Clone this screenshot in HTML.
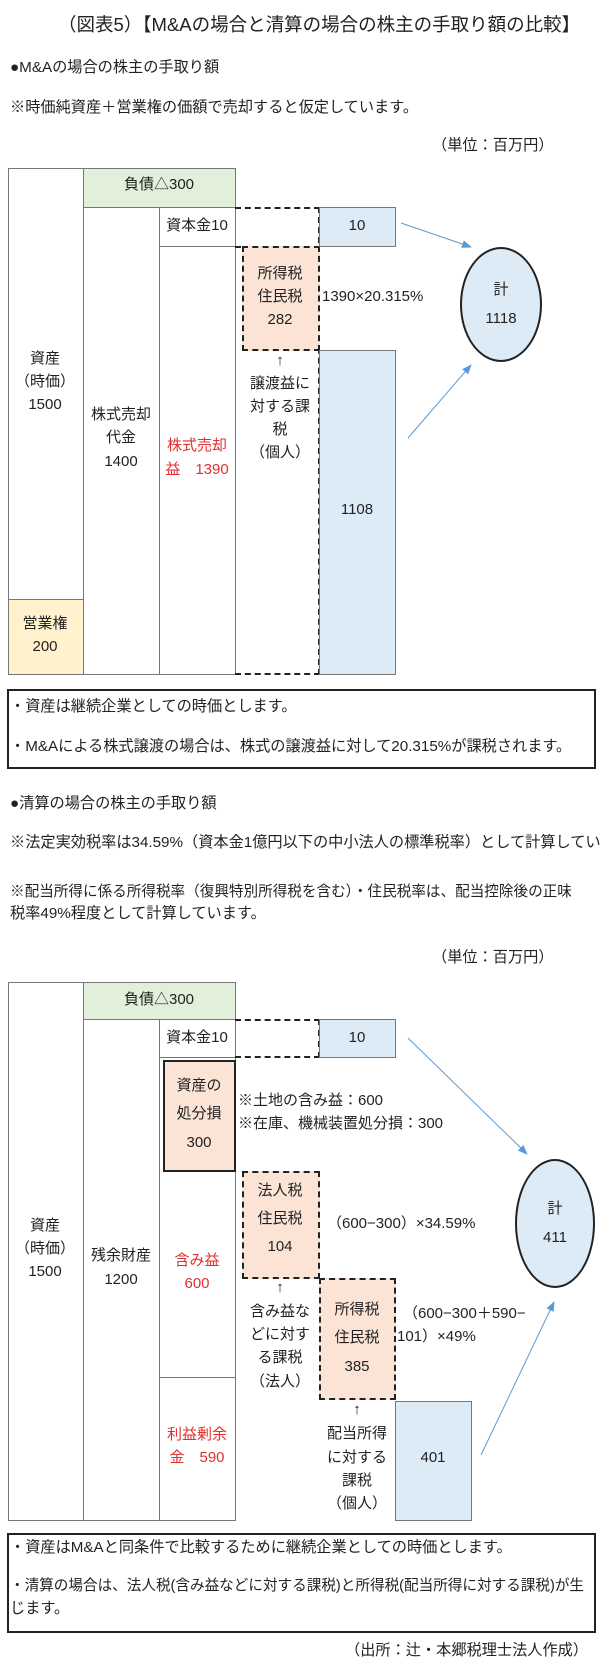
<!DOCTYPE html>
<html><head><meta charset="utf-8"><style>
*{margin:0;padding:0;box-sizing:border-box}
body{width:600px;height:1667px;background:#fff;position:relative;overflow:hidden;font-family:"Liberation Sans","Noto Sans CJK JP",sans-serif;color:#222;font-size:15px}
.a{position:absolute;white-space:nowrap;line-height:18px}
.t{font-size:15.2px}
.c{position:absolute;width:120px;text-align:center;line-height:18px;white-space:nowrap}
.b{position:absolute;border:1.5px solid #777}
.r{color:#e03030}
.d{position:absolute;border:2px dashed #222}
</style></head><body>
<div class="a" style="left:58px;top:14px;font-size:18.5px;line-height:22px">（図表5）【M&amp;Aの場合と清算の場合の株主の手取り額の比較】</div>
<div class="a t" style="left:10px;top:59px">●M&amp;Aの場合の株主の手取り額</div>
<div class="a t" style="left:10px;top:99px">※時価純資産＋営業権の価額で売却すると仮定しています。</div>
<div class="a t" style="left:432px;top:137px">（単位：百万円）</div>

<!-- diagram 1 -->
<div class="b" style="left:8px;top:168px;width:76px;height:507px"></div>
<div class="b" style="left:8px;top:599px;width:76px;height:76px;background:#fff2cc"></div>
<div class="b" style="left:83px;top:168px;width:153px;height:40px;background:#e2efda"></div>
<div class="b" style="left:83px;top:207px;width:77px;height:468px"></div>
<div class="b" style="left:159px;top:207px;width:77px;height:40px"></div>
<div class="b" style="left:159px;top:246px;width:77px;height:429px"></div>
<div class="d" style="left:235px;top:207px;width:85px;height:468px;border-left:none"></div>
<div style="position:absolute;left:235px;top:246px;width:85px;border-top:2px dashed #222"></div>
<div class="d" style="left:242px;top:246px;width:78px;height:105px;background:#fbe4d5"></div>
<div class="b" style="left:319px;top:207px;width:77px;height:40px;background:#ddebf7"></div>
<div class="b" style="left:319px;top:350px;width:77px;height:325px;background:#ddebf7"></div>
<div class="c" style="left:99px;top:176px">負債△300</div>
<div class="c" style="left:137px;top:217px">資本金10</div>
<div class="c" style="left:297px;top:217px">10</div>
<div class="c" style="left:220px;top:265px">所得税</div>
<div class="c" style="left:220px;top:288px">住民税</div>
<div class="c" style="left:220px;top:311px">282</div>
<div class="a" style="left:322px;top:288px">1390×20.315%</div>
<div class="c" style="left:220px;top:352px">↑</div>
<div class="c" style="left:220px;top:375px">譲渡益に</div>
<div class="c" style="left:220px;top:398px">対する課</div>
<div class="c" style="left:220px;top:421px">税</div>
<div class="c" style="left:220px;top:444px">（個人）</div>
<div class="c" style="left:-15px;top:350px">資産</div>
<div class="c" style="left:-15px;top:373px">（時価）</div>
<div class="c" style="left:-15px;top:396px">1500</div>
<div class="c" style="left:61px;top:406px">株式売却</div>
<div class="c" style="left:61px;top:429px">代金</div>
<div class="c" style="left:61px;top:453px">1400</div>
<div class="c r" style="left:137px;top:437px">株式売却</div>
<div class="c r" style="left:137px;top:461px">益　1390</div>
<div class="c" style="left:297px;top:501px">1108</div>
<div class="c" style="left:-15px;top:615px">営業権</div>
<div class="c" style="left:-15px;top:638px">200</div>

<div style="position:absolute;left:460px;top:247px;width:82px;height:115px;border:2px solid #222;border-radius:50%;background:#ddebf7"></div>
<div class="c" style="left:441px;top:281px">計</div>
<div class="c" style="left:441px;top:310px">1118</div>

<div style="position:absolute;left:7px;top:689px;width:589px;height:80px;border:2px solid #222"></div>
<div class="a t" style="left:10px;top:698px">・資産は継続企業としての時価とします。</div>
<div class="a t" style="left:10px;top:738px">・M&amp;Aによる株式譲渡の場合は、株式の譲渡益に対して20.315%が課税されます。</div>

<div class="a t" style="left:10px;top:795px">●清算の場合の株主の手取り額</div>
<div class="a t" style="left:10px;top:834px;width:590px;overflow:hidden">※法定実効税率は34.59%（資本金1億円以下の中小法人の標準税率）として計算しています。</div>
<div class="a" style="left:10px;top:883px;font-size:14.6px">※配当所得に係る所得税率（復興特別所得税を含む）・住民税率は、配当控除後の正味</div>
<div class="a t" style="left:10px;top:905px">税率49%程度として計算しています。</div>
<div class="a t" style="left:432px;top:949px">（単位：百万円）</div>

<!-- diagram 2 -->
<div class="b" style="left:8px;top:982px;width:76px;height:539px"></div>
<div class="b" style="left:83px;top:982px;width:153px;height:38px;background:#e2efda"></div>
<div class="b" style="left:83px;top:1019px;width:77px;height:502px"></div>
<div class="b" style="left:159px;top:1019px;width:77px;height:39px"></div>
<div class="b" style="left:159px;top:1057px;width:77px;height:321px"></div>
<div class="b" style="left:159px;top:1377px;width:77px;height:144px"></div>
<div style="position:absolute;left:163px;top:1060px;width:73px;height:112px;border:2px solid #222;background:#fbe4d5"></div>
<div class="d" style="left:235px;top:1019px;width:85px;height:39px;border-left:none"></div>
<div class="b" style="left:319px;top:1019px;width:77px;height:39px;background:#ddebf7"></div>
<div class="d" style="left:242px;top:1171px;width:78px;height:108px;background:#fbe4d5"></div>
<div class="d" style="left:319px;top:1278px;width:77px;height:122px;background:#fbe4d5"></div>
<div class="b" style="left:395px;top:1401px;width:77px;height:120px;background:#ddebf7"></div>

<div class="c" style="left:99px;top:991px">負債△300</div>
<div class="c" style="left:137px;top:1029px">資本金10</div>
<div class="c" style="left:297px;top:1029px">10</div>
<div class="c" style="left:139px;top:1077px">資産の</div>
<div class="c" style="left:139px;top:1105px">処分損</div>
<div class="c" style="left:139px;top:1134px">300</div>
<div class="a" style="left:238px;top:1092px">※土地の含み益：600</div>
<div class="a" style="left:238px;top:1115px">※在庫、機械装置処分損：300</div>
<div class="c" style="left:220px;top:1182px">法人税</div>
<div class="c" style="left:220px;top:1210px">住民税</div>
<div class="c" style="left:220px;top:1238px">104</div>
<div class="a" style="left:327px;top:1215px">（600−300）×34.59%</div>
<div class="c" style="left:-15px;top:1217px">資産</div>
<div class="c" style="left:-15px;top:1240px">（時価）</div>
<div class="c" style="left:-15px;top:1263px">1500</div>
<div class="c" style="left:61px;top:1247px">残余財産</div>
<div class="c" style="left:61px;top:1271px">1200</div>
<div class="c r" style="left:137px;top:1252px">含み益</div>
<div class="c r" style="left:137px;top:1275px">600</div>
<div class="c" style="left:220px;top:1279px">↑</div>
<div class="c" style="left:220px;top:1303px">含み益な</div>
<div class="c" style="left:220px;top:1326px">どに対す</div>
<div class="c" style="left:220px;top:1349px">る課税</div>
<div class="c" style="left:220px;top:1373px">（法人）</div>
<div class="c" style="left:297px;top:1301px">所得税</div>
<div class="c" style="left:297px;top:1329px">住民税</div>
<div class="c" style="left:297px;top:1358px">385</div>
<div class="a" style="left:403px;top:1305px">（600−300＋590−</div>
<div class="a" style="left:397px;top:1328px">101）×49%</div>
<div class="c r" style="left:137px;top:1426px">利益剰余</div>
<div class="c r" style="left:137px;top:1449px">金　590</div>
<div class="c" style="left:297px;top:1401px">↑</div>
<div class="c" style="left:297px;top:1425px">配当所得</div>
<div class="c" style="left:297px;top:1449px">に対する</div>
<div class="c" style="left:297px;top:1472px">課税</div>
<div class="c" style="left:297px;top:1495px">（個人）</div>
<div class="c" style="left:373px;top:1449px">401</div>

<div style="position:absolute;left:515px;top:1159px;width:80px;height:129px;border:2px solid #222;border-radius:50%;background:#ddebf7"></div>
<div class="c" style="left:495px;top:1200px">計</div>
<div class="c" style="left:495px;top:1229px">411</div>

<svg style="position:absolute;left:0;top:0" width="600" height="1667">
<defs><marker id="m" markerWidth="10" markerHeight="8" refX="9" refY="4" orient="auto" markerUnits="userSpaceOnUse"><path d="M0,0L10,4L0,8z" fill="#5b9bd5"/></marker></defs>
<g stroke="#5b9bd5" stroke-width="1" fill="none" marker-end="url(#m)">
<line x1="401" y1="223" x2="471" y2="247"/>
<line x1="408" y1="438" x2="471" y2="365"/>
<line x1="408" y1="1038" x2="527" y2="1154"/>
<line x1="481" y1="1455" x2="554" y2="1302"/>
</g></svg>

<div style="position:absolute;left:7px;top:1533px;width:589px;height:100px;border:2px solid #222"></div>
<div class="a t" style="left:10px;top:1539px">・資産はM&amp;Aと同条件で比較するために継続企業としての時価とします。</div>
<div class="a" style="left:10px;top:1577px;font-size:14.6px">・清算の場合は、法人税(含み益などに対する課税)と所得税(配当所得に対する課税)が生</div>
<div class="a t" style="left:10px;top:1600px">じます。</div>
<div class="a t" style="right:12px;top:1642px">（出所：辻・本郷税理士法人作成）</div>
</body></html>
